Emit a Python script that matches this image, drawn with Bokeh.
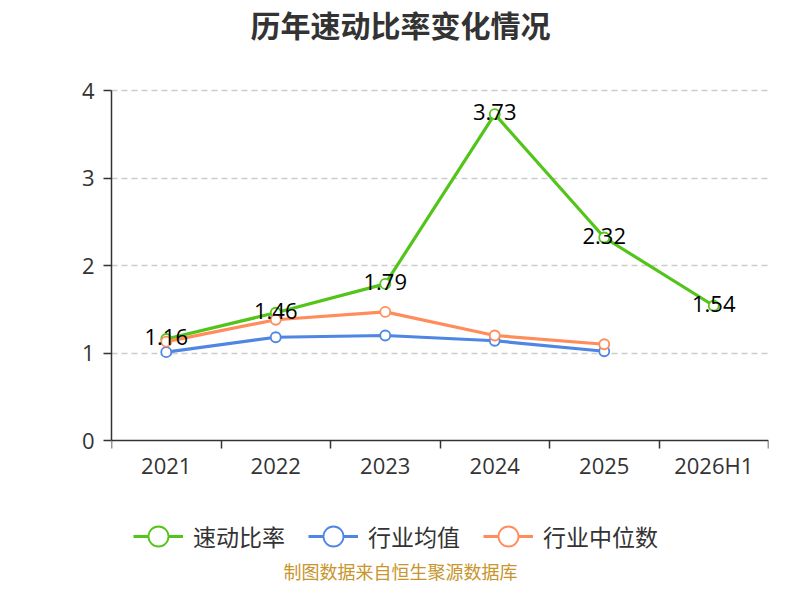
from bokeh.plotting import figure
from bokeh.models import (ColumnDataSource, FixedTicker, Range1d, Label, Legend,
                          LegendItem)
from bokeh.embed import file_html
from bokeh.resources import INLINE

# Data
years = ['2021', '2022', '2023', '2024', '2025', '2026H1']
quick_ratio = [1.16, 1.46, 1.79, 3.73, 2.32, 1.54]
industry_mean = [1.01, 1.18, 1.20, 1.14, 1.02]
industry_median = [1.13, 1.38, 1.47, 1.20, 1.10]
y_ticks = [0, 1, 2, 3, 4]

GREEN = '#52c41a'
BLUE = '#4f86e3'
ORANGE = '#ff8c5a'
TEXT = '#333333'
NUM_FONT = 'Open Sans'
CJK_FONT = 'Noto Sans CJK SC'

W, H = 784, 584
# the frame spans the whole height; the plot area (0..4) sits at y 90..440 px
PX_PER_UNIT = (440 - 90) / 4.0
xs = [i + 0.5 for i in range(len(years))]

p = figure(width=W, height=H, output_backend="svg", toolbar_location=None,
           title=None,
           x_range=Range1d(0, len(years)),
           y_range=Range1d(-(H - 440) / PX_PER_UNIT, 4 + 90 / PX_PER_UNIT),
           min_border_left=111, min_border_right=W - 768, min_border_top=0,
           min_border_bottom=0)
p.outline_line_color = None
p.xgrid.visible = False
p.ygrid.ticker = FixedTicker(ticks=y_ticks[1:])
p.ygrid.grid_line_color = '#cccccc'
p.ygrid.grid_line_dash = "6 4"
p.ygrid.grid_line_width = 1.5

# x axis sits at y=0 inside the frame; ticks at category boundaries
p.xaxis.fixed_location = 0
p.xaxis.ticker = FixedTicker(ticks=xs, minor_ticks=list(range(len(years) + 1)))
p.xaxis.major_label_overrides = {x: y for x, y in zip(xs, years)}
p.xaxis.major_tick_out = 0
p.xaxis.major_tick_in = 0
p.xaxis.minor_tick_out = 8
p.xaxis.minor_tick_in = 0
p.xaxis.minor_tick_line_color = TEXT
p.xaxis.minor_tick_line_width = 1.5
p.xaxis.major_label_standoff = 1

p.yaxis.ticker = FixedTicker(ticks=y_ticks)
p.yaxis.bounds = (0, 4)
p.yaxis.major_tick_out = 8
p.yaxis.major_tick_in = 0
p.yaxis.minor_tick_line_color = None
p.yaxis.major_label_standoff = 9

for ax in (p.xaxis, p.yaxis):
    ax.axis_line_color = TEXT
    ax.axis_line_width = 1.5
    ax.major_tick_line_color = TEXT
    ax.major_tick_line_width = 1.5
    ax.major_label_text_font = NUM_FONT
    ax.major_label_text_font_size = '22px'
    ax.major_label_text_color = TEXT

series = [
    (quick_ratio, GREEN, '速动比率'),
    (industry_mean, BLUE, '行业均值'),
    (industry_median, ORANGE, '行业中位数'),
]
items = []
for values, color, name in series:
    src = ColumnDataSource(dict(x=xs[:len(values)], y=values))
    ln = p.line('x', 'y', source=src, line_color=color, line_width=3.2)
    sc = p.scatter('x', 'y', source=src, size=10, marker='circle',
                   fill_color='white', line_color=color, line_width=1.8)
    items.append(LegendItem(label=name, renderers=[ln, sc]))

lab_src = ColumnDataSource(dict(x=xs, y=quick_ratio,
                                t=['%.2f' % v for v in quick_ratio]))
p.text('x', 'y', text='t', source=lab_src, text_align='center',
       text_baseline='middle', y_offset=-2, text_font_size='22px',
       text_color='black', text_font={'value': NUM_FONT})

# legend marker size follows the glyph box, so a tall box gives the big circle
legend = Legend(items=items, orientation='horizontal', location=(22, H - 561),
                label_text_font=CJK_FONT, label_text_font_size='23px',
                label_text_color=TEXT, glyph_width=50, glyph_height=50,
                spacing=23, label_standoff=10, border_line_color=None,
                background_fill_alpha=0, margin=0, padding=0)
p.add_layout(legend)

p.add_layout(Label(x=400 - 111, y=H - 23, x_units='screen', y_units='screen',
                   text='历年速动比率变化情况', text_font=CJK_FONT,
                   text_font_size='30px', text_font_style='bold',
                   text_color=TEXT, text_align='center',
                   text_baseline='middle'))
p.add_layout(Label(x=400 - 111, y=H - 570, x_units='screen', y_units='screen',
                   text='制图数据来自恒生聚源数据库', text_font=CJK_FONT,
                   text_font_size='18px', text_color='#c8952c',
                   text_align='center', text_baseline='middle'))

open("out.html", "w").write(file_html(p, INLINE))
